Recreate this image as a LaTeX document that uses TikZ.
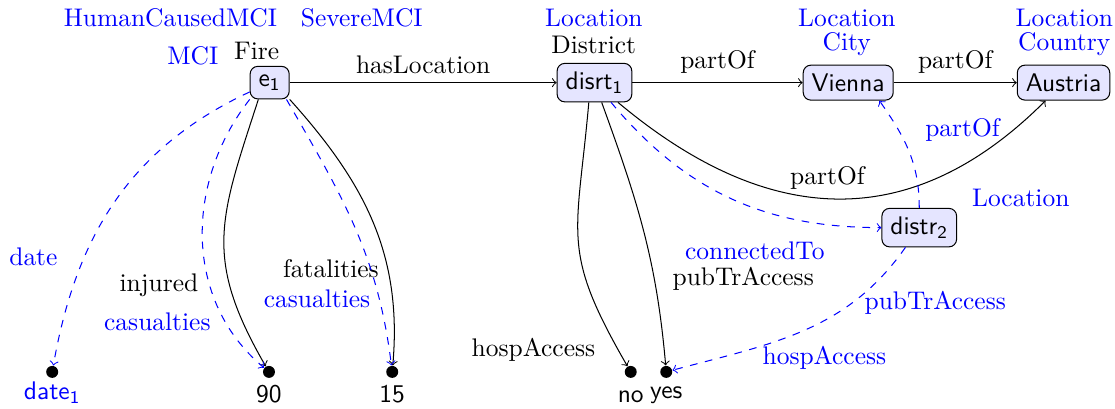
\documentclass[tikz,border=0pt]{standalone}
\usepackage{xcolor}
\usepackage{tikz}
\usetikzlibrary{arrows}
\usetikzlibrary{positioning}

\begin{document}
\begin{tikzpicture}[
		res/.style={draw, rounded corners=3pt, fill=blue!10, font=\sffamily},
		dot/.style={circle, fill=black, inner sep=0pt, minimum size=0.165cm},
		val/.style={dot, label={[font=\sffamily, anchor=south, inner sep=0pt, yshift=-0.35cm]below:#1}},
		typ/.style={anchor=base},
		cls/.style={typ, text=blue},
		inf/.style={->, dashed, blue}
		]
		\useasboundingbox (0,0) rectangle (15.38,5.64);
		
		% draw resource nodes
		\node[res] (e1) at (3.72, 4.50) {e\textsubscript{1}};
		\node[res] (d1) at (8.20, 4.50) {disrt\textsubscript{1}};
		\node[res] (vie) at (11.70, 4.50) {Vienna};
		\node[res] (aus) at (14.67, 4.50) {Austria};
		\node[res] (d2) at (12.68, 2.50) {distr\textsubscript{2}};
		
		% draw literal values
		\node[val={\textcolor{blue}{date\textsubscript{1}}}] (date1) at (0.72, 0.51) {};
		\node[val=90] (n90) at (3.71, 0.51) {};
		\node[val=15] (n15) at (5.41, 0.51) {};
		\node[val=no] (no) at (8.70, 0.51) {};
		\node[val=yes] (yes) at (9.19, 0.51) {};
		
		% draw types
		\node[cls] (tHum) at (2.35, 5.27) {HumanCausedMCI};
		\node[cls] (tSev) at (4.99, 5.27) {SevereMCI};
		\node[cls] (tMci) at (2.66, 4.75) {MCI};
		\node[typ] (tFire) at (3.54, 4.82) {Fire};
		\node[cls] (tLoc1) at (8.19, 5.28) {Location};
		\node[typ] (tDis) at (8.19, 4.90) {District};
		\node[cls] (tLoc2) at (11.68, 5.28) {Location};
		\node[cls] (tCity) at (11.68, 4.94) {City};
		\node[cls] (tLoc3) at (14.68, 5.28) {Location};
		\node[cls] (tCou) at (14.68, 4.94) {Country};
		\node[cls] (tLoc4) at (14.08, 2.79) {Location};
		
		% draw asserted edges
		\draw[->] (e1) -- (d1) node[midway, above] (lLoc) {hasLocation};
		\draw[->] (d1) -- (vie) node[midway, above] (lPart1) {partOf};
		\draw[->] (vie) -- (aus) node[midway, above] (lPart2) {partOf};
		\draw[->] (d1) to[out=320, in=225, looseness=1.15] node[pos=0.48, above] (lPart3) {partOf} (aus);
		\draw[->] (d1.254) to[out=265, in=120, looseness=1.3] node[pos=0.95, left=0.19cm] (lHosp) {hospAccess} (no);
		\draw[->] (d1) to[out=290, in=95] node[pos=0.69, right=0.13cm] (lPub) {pubTrAccess} (yes);
		\draw[->] (e1.236) to[out=252, in=120, looseness=1.2] node[pos=0.71, left=0.31cm] (lInj) {injured} (n90);
		\draw[->] (e1.320) to[out=312, in=85] node[pos=0.68, left] (lFat) {fatalities} (n15);
		
		% draw inferred edges
		\draw[inf] (e1) to[out=205, in=80] node[pos=0.69, left=0.25cm] (lDate) {date} (date1);
		\draw[inf] (e1.220) to[out=232, in=140] node[pos=0.8, left=0.08cm] (lCas1) {casualties} (n90);
		\draw[inf] (e1.315) to[out=300, in=97] node[pos=0.78, left] (lCas2) {casualties} (n15);
		\draw[inf] (d1) to[out=310, in=180] node[pos=0.59, below=0.34cm] (lConn) {connectedTo} (d2);
		\draw[inf] (d2.north) to[out=90, in=305] node[pos=0.72, right=0.25cm] (lPart4) {partOf} (vie.330);
		\draw[inf] (d2) to[out=235, in=15] node[pos=0.28, right=0.05cm] (lPub2) {pubTrAccess} node[pos=0.41, below=0.23cm] (lHosp2) {hospAccess} (yes);
		\end{tikzpicture}
\end{document}
